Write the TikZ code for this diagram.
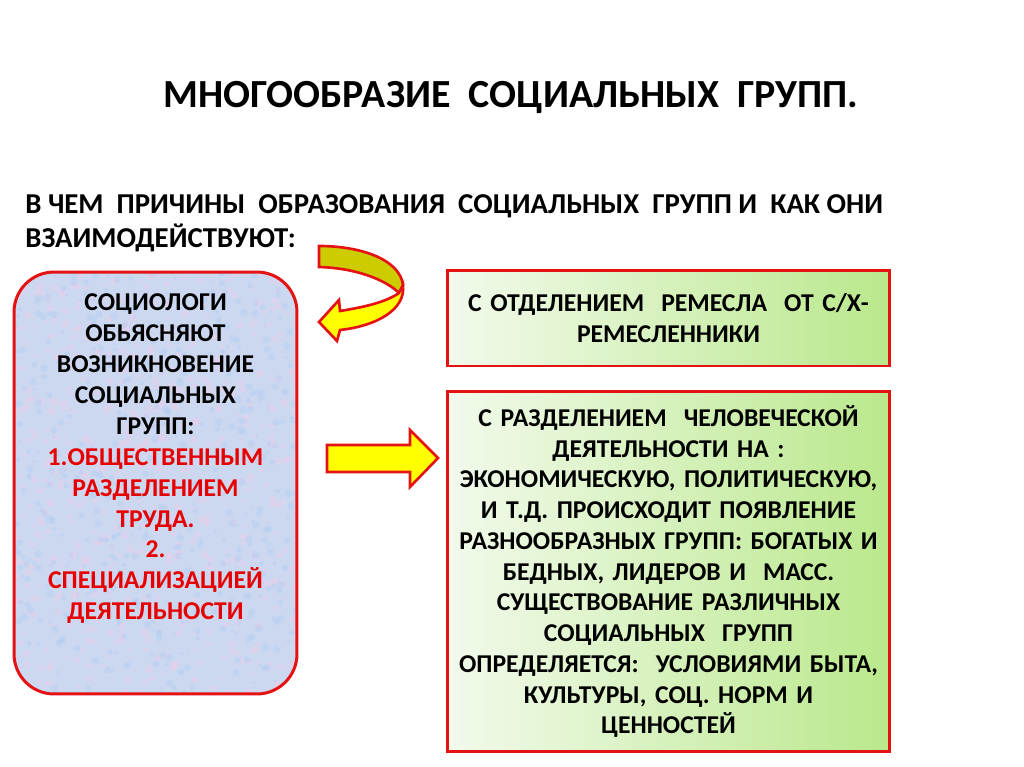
\documentclass[tikz,border=0pt]{standalone}
\usepackage{fontspec}
\setmainfont{Carlito}
\usetikzlibrary{positioning}

\definecolor{boxred}{RGB}{228,18,18}
\definecolor{paleblue}{RGB}{203,216,240}
\definecolor{specklepink}{RGB}{235,205,235}
\definecolor{speckleblue}{RGB}{180,205,240}
\definecolor{greenL}{RGB}{242,250,236}
\definecolor{greenR}{RGB}{186,232,140}
\definecolor{arrowyellow}{RGB}{255,255,0}
\definecolor{arrowolive}{RGB}{204,204,0}
\definecolor{textred}{RGB}{230,0,0}

\begin{document}
\begin{tikzpicture}[x=0.02cm, y=-0.02cm,
    greenbox/.style={draw=boxred, line width=1.7pt, left color=greenL, right color=greenR,
        minimum width=8.86cm, text width=8.6cm, align=center, inner sep=0pt,
        font=\bfseries\fontsize{14.6}{17.5}\selectfont},
    blockarrow/.style={draw=boxred, line width=1.5pt, line join=miter}]

    \useasboundingbox (0,0) rectangle (1024,767);

    % Заголовок
    \node (title) at (511,97) {\bfseries\fontsize{22.7}{26}\selectfont МНОГООБРАЗИЕ\ \ СОЦИАЛЬНЫХ\ \ ГРУПП.};

    % Вопрос
    \node[anchor=north west, align=left, inner sep=0pt, font=\bfseries\fontsize{16.4}{19.5}\selectfont] (question) at (25,194)
        {В ЧЕМ\ \ ПРИЧИНЫ\ \ ОБРАЗОВАНИЯ\ \ СОЦИАЛЬНЫХ\ \ ГРУПП И\ \ КАК ОНИ\\ВЗАИМОДЕЙСТВУЮТ:};

    % Левый блок (фон с крапинками)
    \fill[paleblue, rounded corners=0.8cm] (14,272) rectangle (297,694);
    \begin{scope}
        \clip[rounded corners=0.8cm] (14,272) rectangle (297,694);
        \pgfmathsetseed{11}
        \foreach \i in {1,...,700}
            \fill[specklepink, opacity=0.45] (14+283*rnd,272+422*rnd) circle (1.5+2.5*rnd);
        \foreach \i in {1,...,500}
            \fill[speckleblue, opacity=0.45] (14+283*rnd,272+422*rnd) circle (1.5+2.5*rnd);
    \end{scope}
    \node[draw=boxred, line width=1.7pt, rounded corners=0.8cm,
        minimum width=5.66cm, minimum height=8.44cm] (sociol) at (155.5,483) {};
    \node[below=0.34cm of sociol.north, align=center, text width=5.4cm,
        font=\bfseries\fontsize{14.6}{17.6}\selectfont] (sociolText)
        {СОЦИОЛОГИ\\ОБЬЯСНЯЮТ\\ВОЗНИКНОВЕНИЕ\\СОЦИАЛЬНЫХ\\ГРУПП:\\
         \textcolor{textred}{1.ОБЩЕСТВЕННЫМ}\\\textcolor{textred}{РАЗДЕЛЕНИЕМ}\\\textcolor{textred}{ТРУДА.}\\
         \textcolor{textred}{2.}\\\textcolor{textred}{СПЕЦИАЛИЗАЦИЕЙ}\\\textcolor{textred}{ДЕЯТЕЛЬНОСТИ}};

    % Правые блоки
    \node[greenbox, minimum height=1.92cm] (craft) at (668.5,318)
        {С ОТДЕЛЕНИЕМ\ \ РЕМЕСЛА\ \ ОТ С/Х-\\РЕМЕСЛЕННИКИ};
    \node[greenbox, minimum height=7.22cm] (division) at (668.5,571.5)
        {С РАЗДЕЛЕНИЕМ\ \ ЧЕЛОВЕЧЕСКОЙ\\ДЕЯТЕЛЬНОСТИ НА :\\ЭКОНОМИЧЕСКУЮ, ПОЛИТИЧЕСКУЮ,\\
         И Т.Д. ПРОИСХОДИТ ПОЯВЛЕНИЕ\\РАЗНООБРАЗНЫХ ГРУПП: БОГАТЫХ И\\БЕДНЫХ, ЛИДЕРОВ И\ \ МАСС.\\
         СУЩЕСТВОВАНИЕ РАЗЛИЧНЫХ\\СОЦИАЛЬНЫХ\ \ ГРУПП\\ОПРЕДЕЛЯЕТСЯ:\ \ УСЛОВИЯМИ БЫТА,\\
         КУЛЬТУРЫ, СОЦ. НОРМ И\\ЦЕННОСТЕЙ};

    % Изогнутая стрелка
    \draw[blockarrow, fill=arrowolive] (319,246) .. controls (362,246) and (400,260) .. (403,285)
        -- (399,293) .. controls (386,280) and (356,268) .. (319,267) -- cycle;
    \draw[blockarrow, fill=arrowyellow] (399,293) .. controls (386,302) and (365,307) .. (340,311)
        -- (339,300) -- (319,322) -- (337,341) -- (340,330)
        .. controls (376,326) and (406,310) .. (403,285) -- cycle;

    % Прямая стрелка
    \draw[blockarrow, fill=arrowyellow] (327,445) -- (410,445) -- (410,430) -- (438,458)
        -- (410,487) -- (410,472) -- (327,472) -- cycle;

\end{tikzpicture}
\end{document}
